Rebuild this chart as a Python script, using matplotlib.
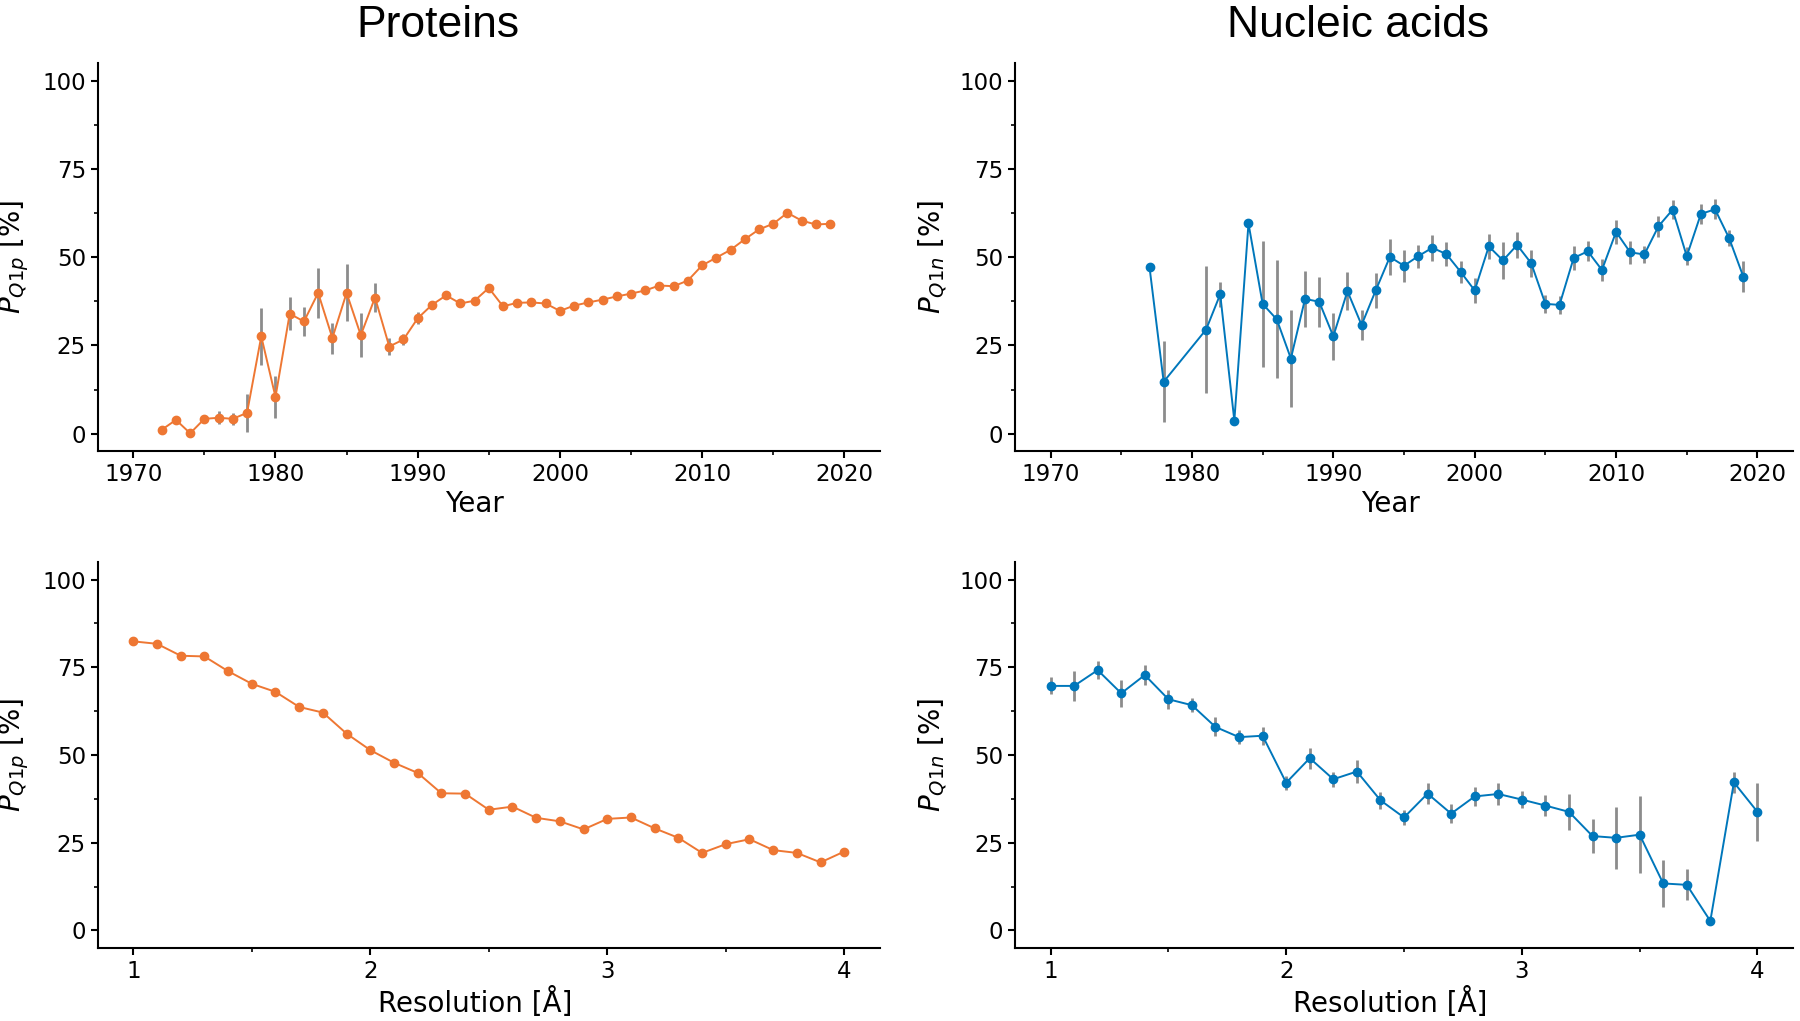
import matplotlib
matplotlib.use("Agg")
import matplotlib.pyplot as plt
from matplotlib.ticker import MultipleLocator

# proteins vs year
prot_years = list(range(1972, 2020))
prot_year_vals = [1.1, 3.9, 0.1, 4.2, 4.5, 4.2, 5.9, 27.6, 10.4, 34.0,
                  31.8, 39.9, 27.1, 39.9, 27.9, 38.6, 24.7, 26.7, 32.7, 36.5,
                  39.2, 36.9, 37.7, 41.3, 36.1, 37.1, 37.2, 36.9, 34.8, 36.3,
                  37.2, 38.0, 38.9, 39.7, 40.6, 42.0, 41.8, 43.4, 47.7, 49.9,
                  52.1, 55.1, 57.9, 59.5, 62.6, 60.4, 59.3, 59.5]
prot_year_err = [0.3, 0.4, 0.2, 0.8, 1.8, 1.7, 5.4, 8.0, 6.0, 4.7,
                 4.0, 7.1, 4.4, 8.1, 6.3, 4.2, 2.4, 1.5, 1.7, 1.0,
                 0.9, 0.8, 0.8, 0.8, 0.7, 0.7, 0.7, 0.6, 0.6, 0.6,
                 0.5, 0.5, 0.5, 0.5, 0.5, 0.5, 0.5, 0.4, 0.4, 0.4,
                 0.4, 0.4, 0.4, 0.4, 0.4, 0.4, 0.4, 0.4]

# nucleic acids vs year
nuc_years = [1977, 1978, 1981, 1982, 1983, 1984, 1985, 1986, 1987, 1988,
             1989, 1990, 1991, 1992, 1993, 1994, 1995, 1996, 1997, 1998,
             1999, 2000, 2001, 2002, 2003, 2004, 2005, 2006, 2007, 2008,
             2009, 2010, 2011, 2012, 2013, 2014, 2015, 2016, 2017, 2018, 2019]
nuc_year_vals = [47.2, 14.7, 29.5, 39.5, 3.7, 59.6, 36.8, 32.4, 21.3, 38.2,
                 37.4, 27.6, 40.4, 30.8, 40.6, 50.1, 47.6, 50.3, 52.7, 50.9,
                 45.9, 40.6, 53.1, 49.1, 53.5, 48.3, 36.8, 36.5, 49.8, 51.7,
                 46.4, 57.2, 51.4, 50.8, 58.8, 63.5, 50.3, 62.3, 63.6, 55.4, 44.5]
nuc_year_err = [0.0, 11.5, 17.9, 3.5, 0.0, 0.0, 17.8, 16.7, 13.8, 8.0,
                7.1, 6.6, 5.3, 4.2, 5.0, 5.0, 4.5, 3.2, 3.7, 3.3,
                3.1, 3.5, 3.5, 5.3, 3.7, 3.8, 2.5, 2.5, 3.4, 2.8,
                3.1, 3.4, 3.2, 2.4, 3.0, 2.7, 2.5, 2.8, 2.8, 2.3, 4.4]

# vs resolution
resolution = [1.0, 1.1, 1.2, 1.3, 1.4, 1.5, 1.6, 1.7, 1.8, 1.9,
              2.0, 2.1, 2.2, 2.3, 2.4, 2.5, 2.6, 2.7, 2.8, 2.9,
              3.0, 3.1, 3.2, 3.3, 3.4, 3.5, 3.6, 3.7, 3.8, 3.9, 4.0]
prot_res_vals = [82.4, 81.7, 78.3, 78.1, 73.9, 70.3, 68.0, 63.7, 62.1, 56.1,
                 51.4, 47.8, 44.9, 39.1, 39.0, 34.4, 35.3, 32.1, 31.1, 28.8,
                 31.8, 32.2, 29.1, 26.4, 22.1, 24.6, 26.0, 22.9, 22.1, 19.4, 22.5]
prot_res_err = [0.3] * 31
nuc_res_vals = [69.7, 69.7, 74.2, 67.6, 72.8, 65.9, 64.2, 58.0, 55.1, 55.5,
                42.1, 49.1, 43.1, 45.3, 37.1, 32.2, 39.0, 33.3, 38.2, 38.9,
                37.3, 35.6, 33.8, 26.9, 26.4, 27.3, 13.4, 13.0, 2.7, 42.2, 33.8]
nuc_res_err = [2.4, 4.3, 2.6, 3.8, 2.9, 2.7, 2.0, 2.7, 2.0, 2.5,
               2.0, 3.0, 2.2, 3.3, 2.4, 2.2, 2.9, 2.8, 2.6, 3.1,
               2.4, 3.1, 5.2, 4.9, 8.9, 10.9, 6.6, 4.4, 1.0, 3.0, 8.3]

orange = "#EE7733"
blue = "#0077BB"

fig = plt.figure(figsize=(18, 10.21), dpi=100)
ax_tl = fig.add_axes([0.0543, 0.558, 0.4345, 0.380])
ax_tr = fig.add_axes([0.564, 0.558, 0.432, 0.380])
ax_bl = fig.add_axes([0.0543, 0.0715, 0.4345, 0.378])
ax_br = fig.add_axes([0.564, 0.0715, 0.432, 0.378])

def draw(ax, x, y, err, color, xlabel, ylabel):
    ax.errorbar(x, y, yerr=err, color=color, ecolor="#8c8c8c", elinewidth=2,
                capsize=0, lw=1.4, marker="o", markersize=6)
    ax.spines["top"].set_visible(False)
    ax.spines["right"].set_visible(False)
    for s in ("left", "bottom"):
        ax.spines[s].set_linewidth(1.5)
    ax.set_ylim(-5, 105)
    ax.yaxis.set_major_locator(MultipleLocator(25))
    ax.yaxis.set_minor_locator(MultipleLocator(12.5))
    ax.tick_params(which="major", length=5, width=1.5, labelsize=16.5)
    ax.tick_params(which="minor", length=3, width=1.2)
    ax.set_xlabel(xlabel, fontsize=20)
    ax.set_ylabel(ylabel, fontsize=20, labelpad=8)
    ax.xaxis.set_label_coords(0.482, -0.10)

draw(ax_tl, prot_years, prot_year_vals, prot_year_err, orange, "Year", r"$P_{Q1p}$ [%]")
draw(ax_tr, nuc_years, nuc_year_vals, nuc_year_err, blue, "Year", r"$P_{Q1n}$ [%]")
draw(ax_bl, resolution, prot_res_vals, prot_res_err, orange, "Resolution [Å]", r"$P_{Q1p}$ [%]")
draw(ax_br, resolution, nuc_res_vals, nuc_res_err, blue, "Resolution [Å]", r"$P_{Q1n}$ [%]")

for ax in (ax_tl, ax_tr):
    ax.set_xlim(1967.5, 2022.5)
    ax.xaxis.set_major_locator(MultipleLocator(10))
    ax.xaxis.set_minor_locator(MultipleLocator(5))
for ax in (ax_bl, ax_br):
    ax.set_xlim(0.85, 4.15)
    ax.xaxis.set_major_locator(MultipleLocator(1))
    ax.xaxis.set_minor_locator(MultipleLocator(0.5))

fig.text(0.2435, 0.975, "Proteins", fontsize=32, family="Liberation Sans",
         ha="center", va="center")
fig.text(0.7545, 0.975, "Nucleic acids", fontsize=32, family="Liberation Sans",
         ha="center", va="center")

fig.savefig("out.png", dpi=100)
